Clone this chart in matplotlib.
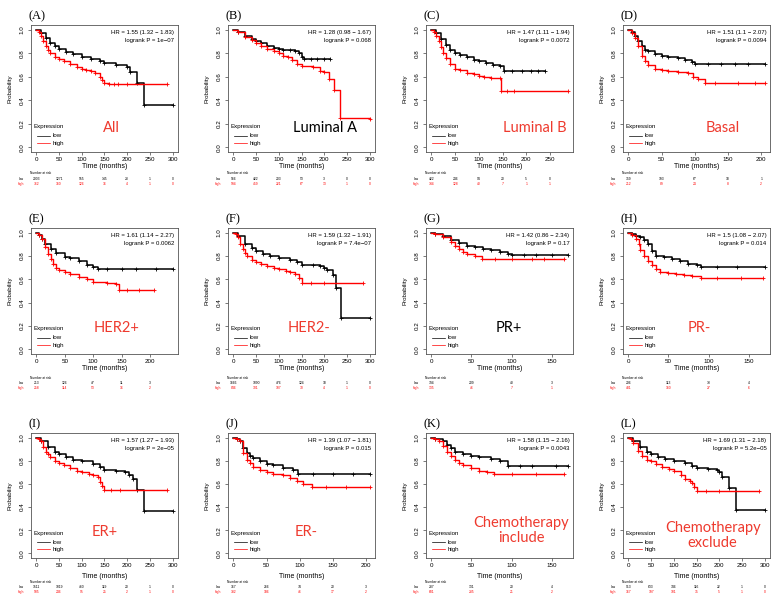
import numpy as np
import matplotlib.pyplot as plt
from matplotlib.transforms import blended_transform_factory

W, H = 778, 607
RED = "#FF0000"
TAGRED = "#EE3A2E"

# ---- Kurvendaten (Zeit in Monaten, Überlebenswahrscheinlichkeit) ----
# (A) All
a_low_t = [0, 10, 20, 30, 40, 50, 65, 80, 100, 120, 140, 150, 175, 200, 207, 222, 237, 300]
a_low_s = [1.0, 0.97, 0.93, 0.89, 0.86, 0.835, 0.81, 0.79, 0.77, 0.755, 0.735, 0.715, 0.70, 0.685, 0.64, 0.545, 0.36, 0.36]
a_high_t = [0, 5, 10, 15, 20, 25, 30, 40, 50, 60, 75, 90, 100, 110, 120, 130, 140, 145, 150, 160, 170, 180, 200, 287]
a_high_s = [1.0, 0.98, 0.95, 0.9, 0.86, 0.83, 0.8, 0.77, 0.75, 0.73, 0.71, 0.685, 0.665, 0.655, 0.645, 0.63, 0.6, 0.575, 0.545, 0.54, 0.54, 0.54, 0.54, 0.54]
a_risk_low = [2003, 1271, 555, 145, 23, 1, 0]
a_risk_high = [762, 360, 126, 36, 4, 1, 0]

# (B) Luminal A
b_low_t = [0, 10, 25, 40, 50, 60, 75, 90, 100, 110, 125, 135, 145, 150, 155, 170, 185, 200, 213]
b_low_s = [1.0, 0.98, 0.95, 0.92, 0.90, 0.885, 0.86, 0.845, 0.835, 0.83, 0.825, 0.815, 0.80, 0.77, 0.755, 0.755, 0.755, 0.755, 0.755]
b_high_t = [0, 10, 25, 40, 50, 60, 75, 90, 100, 110, 120, 130, 140, 150, 175, 190, 200, 210, 222, 235, 300]
b_high_s = [1.0, 0.98, 0.94, 0.91, 0.885, 0.86, 0.84, 0.82, 0.80, 0.78, 0.765, 0.745, 0.71, 0.69, 0.685, 0.65, 0.64, 0.585, 0.485, 0.245, 0.24]
b_risk_low = [566, 422, 203, 53, 3, 0, 0]
b_risk_high = [594, 459, 221, 67, 13, 1, 0]

# (C) Luminal B
c_low_t = [0, 10, 20, 30, 40, 50, 60, 75, 90, 100, 115, 130, 145, 152, 170, 190, 210, 225, 240]
c_low_s = [1.0, 0.97, 0.92, 0.87, 0.83, 0.80, 0.785, 0.765, 0.745, 0.735, 0.715, 0.70, 0.69, 0.65, 0.65, 0.65, 0.65, 0.65, 0.65]
c_high_t = [0, 5, 10, 15, 20, 25, 30, 40, 50, 60, 75, 90, 100, 110, 125, 145, 147, 160, 175, 287]
c_high_s = [1.0, 0.98, 0.95, 0.90, 0.85, 0.80, 0.76, 0.71, 0.67, 0.655, 0.635, 0.62, 0.605, 0.595, 0.59, 0.59, 0.475, 0.475, 0.475, 0.475]
c_risk_low = [422, 246, 94, 20, 5, 0]
c_risk_high = [334, 128, 40, 7, 1, 1]

# (D) Basal
d_low_t = [0, 5, 10, 15, 20, 25, 30, 40, 50, 60, 75, 85, 95, 100, 120, 140, 160, 180, 205]
d_low_s = [1.0, 0.98, 0.945, 0.90, 0.86, 0.83, 0.815, 0.795, 0.78, 0.77, 0.76, 0.745, 0.725, 0.71, 0.71, 0.71, 0.71, 0.71, 0.71]
d_high_t = [0, 5, 10, 15, 20, 25, 30, 40, 50, 60, 75, 90, 97, 105, 115, 130, 165, 190, 205]
d_high_s = [1.0, 0.97, 0.93, 0.86, 0.78, 0.73, 0.70, 0.67, 0.655, 0.645, 0.64, 0.63, 0.6, 0.585, 0.55, 0.55, 0.55, 0.55, 0.55]
d_risk_low = [359, 193, 67, 18, 1]
d_risk_high = [212, 89, 24, 8, 2]

# (E) HER2+
e_low_t = [0, 5, 10, 15, 25, 35, 50, 60, 75, 90, 100, 108, 125, 150, 175, 210, 240]
e_low_s = [1.0, 0.98, 0.95, 0.905, 0.86, 0.83, 0.795, 0.78, 0.76, 0.725, 0.705, 0.685, 0.685, 0.685, 0.685, 0.685, 0.685]
e_high_t = [0, 5, 10, 15, 20, 25, 30, 35, 40, 50, 60, 75, 90, 100, 125, 140, 145, 160, 180, 208]
e_high_s = [1.0, 0.98, 0.95, 0.875, 0.82, 0.775, 0.73, 0.695, 0.68, 0.665, 0.645, 0.62, 0.60, 0.58, 0.57, 0.56, 0.505, 0.505, 0.505, 0.505]
e_risk_low = [213, 126, 47, 11, 3]
e_risk_high = [258, 114, 53, 16, 2]

# (F) HER2-
f_low_t = [0, 10, 25, 40, 50, 65, 80, 100, 125, 140, 150, 175, 190, 200, 207, 220, 227, 237, 300]
f_low_s = [1.0, 0.97, 0.905, 0.865, 0.845, 0.82, 0.80, 0.785, 0.77, 0.75, 0.725, 0.72, 0.715, 0.695, 0.68, 0.64, 0.53, 0.265, 0.265]
f_high_t = [0, 5, 10, 15, 20, 25, 30, 40, 50, 60, 75, 90, 100, 115, 125, 135, 145, 152, 170, 200, 285]
f_high_s = [1.0, 0.985, 0.96, 0.905, 0.86, 0.83, 0.80, 0.765, 0.745, 0.73, 0.715, 0.70, 0.685, 0.67, 0.665, 0.645, 0.61, 0.57, 0.57, 0.57, 0.57]
f_risk_low = [1666, 1090, 476, 124, 18, 1, 0]
f_risk_high = [846, 301, 107, 30, 4, 1, 0]

# (G) PR+
g_low_t = [0, 5, 15, 25, 35, 45, 55, 65, 75, 85, 95, 100, 115, 130, 150, 170]
g_low_s = [1.0, 0.99, 0.97, 0.94, 0.91, 0.89, 0.875, 0.86, 0.85, 0.835, 0.82, 0.81, 0.81, 0.81, 0.81, 0.81]
g_high_t = [0, 5, 15, 25, 30, 35, 40, 45, 55, 63, 80, 100, 125, 140, 165]
g_high_s = [1.0, 0.99, 0.96, 0.92, 0.89, 0.86, 0.835, 0.82, 0.80, 0.775, 0.775, 0.775, 0.775, 0.775, 0.775]
g_risk_low = [394, 209, 40, 3]
g_risk_high = [135, 46, 7, 1]

# (H) PR-
h_low_t = [0, 5, 10, 15, 20, 25, 30, 35, 45, 55, 65, 75, 85, 90, 110, 135, 170]
h_low_s = [1.0, 0.99, 0.975, 0.96, 0.935, 0.90, 0.84, 0.80, 0.79, 0.775, 0.755, 0.735, 0.72, 0.705, 0.705, 0.705, 0.705]
h_high_t = [0, 5, 10, 13, 15, 20, 25, 30, 35, 40, 50, 60, 70, 80, 90, 110, 140, 168]
h_high_s = [1.0, 0.98, 0.95, 0.9, 0.85, 0.80, 0.76, 0.725, 0.69, 0.665, 0.655, 0.65, 0.635, 0.63, 0.615, 0.615, 0.615, 0.615]
h_risk_low = [206, 113, 33, 4]
h_risk_high = [431, 160, 27, 6]

# (I) ER+
i_low_t = [0, 10, 25, 40, 50, 65, 80, 100, 125, 140, 150, 175, 195, 205, 212, 222, 237, 300]
i_low_s = [1.0, 0.975, 0.92, 0.88, 0.86, 0.835, 0.81, 0.795, 0.775, 0.745, 0.72, 0.715, 0.70, 0.68, 0.645, 0.545, 0.365, 0.365]
i_high_t = [0, 5, 10, 15, 20, 25, 30, 40, 50, 60, 75, 90, 100, 115, 125, 135, 140, 145, 150, 165, 185, 287]
i_high_s = [1.0, 0.99, 0.97, 0.915, 0.88, 0.855, 0.83, 0.80, 0.78, 0.76, 0.735, 0.71, 0.70, 0.69, 0.68, 0.66, 0.62, 0.585, 0.545, 0.545, 0.545, 0.545]
i_risk_low = [1511, 1019, 460, 119, 20, 1, 0]
i_risk_high = [505, 246, 95, 25, 2, 1, 0]

# (J) ER-
j_low_t = [0, 5, 10, 15, 20, 25, 30, 40, 50, 60, 75, 90, 97, 120, 150, 180, 205]
j_low_s = [1.0, 0.99, 0.97, 0.91, 0.87, 0.84, 0.82, 0.795, 0.775, 0.76, 0.735, 0.72, 0.69, 0.69, 0.69, 0.69, 0.69]
j_high_t = [0, 5, 10, 15, 20, 25, 30, 40, 50, 60, 75, 85, 95, 105, 118, 140, 170, 205]
j_high_s = [1.0, 0.99, 0.97, 0.87, 0.81, 0.78, 0.75, 0.72, 0.705, 0.69, 0.675, 0.65, 0.625, 0.60, 0.575, 0.575, 0.575, 0.575]
j_risk_low = [367, 266, 74, 20, 3]
j_risk_high = [382, 186, 46, 17, 2]

# (K) Chemotherapy include
k_low_t = [0, 5, 15, 20, 25, 30, 40, 50, 60, 75, 85, 95, 110, 125, 155, 170]
k_low_s = [1.0, 0.99, 0.97, 0.94, 0.91, 0.88, 0.855, 0.84, 0.83, 0.815, 0.80, 0.755, 0.755, 0.755, 0.755, 0.755]
k_high_t = [0, 5, 10, 15, 20, 25, 30, 35, 40, 50, 60, 70, 78, 100, 130, 165]
k_high_s = [1.0, 0.99, 0.97, 0.93, 0.88, 0.84, 0.805, 0.78, 0.76, 0.735, 0.71, 0.70, 0.685, 0.685, 0.685, 0.685]
k_risk_low = [287, 131, 20, 4]
k_risk_high = [681, 235, 21, 2]

# (L) Chemotherapy exclude
l_low_t = [0, 10, 25, 40, 50, 65, 80, 100, 125, 140, 150, 175, 195, 200, 207, 222, 237, 300]
l_low_s = [1.0, 0.97, 0.92, 0.88, 0.86, 0.835, 0.815, 0.80, 0.78, 0.755, 0.735, 0.73, 0.72, 0.70, 0.66, 0.565, 0.375, 0.375]
l_high_t = [0, 5, 10, 20, 30, 40, 50, 60, 75, 90, 100, 115, 125, 135, 140, 145, 150, 170, 200, 287]
l_high_s = [1.0, 0.985, 0.955, 0.885, 0.84, 0.81, 0.795, 0.775, 0.75, 0.725, 0.71, 0.68, 0.64, 0.625, 0.605, 0.57, 0.535, 0.535, 0.535, 0.535]
l_risk_low = [913, 633, 346, 116, 22, 1, 0]
l_risk_high = [367, 197, 101, 35, 5, 1, 0]

letters = ["(A)", "(B)", "(C)", "(D)", "(E)", "(F)", "(G)", "(H)", "(I)", "(J)", "(K)", "(L)"]
groups = ["All", "Luminal A", "Luminal B", "Basal", "HER2+", "HER2-", "PR+", "PR-",
          "ER+", "ER-", "Chemotherapy\ninclude", "Chemotherapy\nexclude"]
hr_text = ["HR = 1.55 (1.32 \u2212 1.83)", "HR = 1.28 (0.98 \u2212 1.67)", "HR = 1.47 (1.11 \u2212 1.94)",
           "HR = 1.51 (1.1 \u2212 2.07)", "HR = 1.61 (1.14 \u2212 2.27)", "HR = 1.59 (1.32 \u2212 1.91)",
           "HR = 1.42 (0.86 \u2212 2.34)", "HR = 1.5 (1.08 \u2212 2.07)", "HR = 1.57 (1.27 \u2212 1.93)",
           "HR = 1.39 (1.07 \u2212 1.81)", "HR = 1.58 (1.15 \u2212 2.16)", "HR = 1.69 (1.31 \u2212 2.18)"]
p_text = ["logrank P = 1e\u221207", "logrank P = 0.068", "logrank P = 0.0072", "logrank P = 0.0094",
          "logrank P = 0.0062", "logrank P = 7.4e\u221207", "logrank P = 0.17", "logrank P = 0.014",
          "logrank P = 2e\u221205", "logrank P = 0.015", "logrank P = 0.0043", "logrank P = 5.2e\u221205"]

curves = [
    (a_low_t, a_low_s, a_high_t, a_high_s, a_risk_low, a_risk_high),
    (b_low_t, b_low_s, b_high_t, b_high_s, b_risk_low, b_risk_high),
    (c_low_t, c_low_s, c_high_t, c_high_s, c_risk_low, c_risk_high),
    (d_low_t, d_low_s, d_high_t, d_high_s, d_risk_low, d_risk_high),
    (e_low_t, e_low_s, e_high_t, e_high_s, e_risk_low, e_risk_high),
    (f_low_t, f_low_s, f_high_t, f_high_s, f_risk_low, f_risk_high),
    (g_low_t, g_low_s, g_high_t, g_high_s, g_risk_low, g_risk_high),
    (h_low_t, h_low_s, h_high_t, h_high_s, h_risk_low, h_risk_high),
    (i_low_t, i_low_s, i_high_t, i_high_s, i_risk_low, i_risk_high),
    (j_low_t, j_low_s, j_high_t, j_high_s, j_risk_low, j_risk_high),
    (k_low_t, k_low_s, k_high_t, k_high_s, k_risk_low, k_risk_high),
    (l_low_t, l_low_s, l_high_t, l_high_s, l_risk_low, l_risk_high),
]

# Layout (Pixel)
col_left = [31, 228, 426, 623]
box_w = 147
row_top = [25, 228, 433]
row_bot = [152, 354, 558]
xlab_off = [15, 15, 18]
risk_off = [(21, 27, 32), (24, 29, 34), (24, 29, 34)]
tag_pos = [(0.55, 0.19), (0.66, 0.19), (0.74, 0.19), (0.68, 0.19),
           (0.58, 0.21), (0.55, 0.21), (0.56, 0.21), (0.52, 0.21),
           (0.50, 0.21), (0.53, 0.21), (0.65, 0.22), (0.61, 0.18)]
tag_color = [TAGRED, "black", TAGRED, TAGRED, TAGRED, TAGRED, "black", TAGRED,
             TAGRED, TAGRED, TAGRED, TAGRED]

SANS = ["Liberation Sans", "DejaVu Sans"]
plt.rcParams["font.family"] = SANS

fig = plt.figure(figsize=(W / 100, H / 100), dpi=100)


def fy(y):
    return 1 - y / H


for k, (lt, ls, ht, hs, rl, rh) in enumerate(curves):
    c, r = k % 4, k // 4
    L, T, B = col_left[c], row_top[r], row_bot[r]
    ax = fig.add_axes([L / W, fy(B), box_w / W, (B - T) / H])

    xmax = max(lt[-1], ht[-1])
    ax.set_xlim(-0.04 * xmax, 1.04 * xmax)
    ax.set_ylim(-0.04, 1.04)
    xt = np.arange(0, 1.04 * xmax, 50)
    ax.set_xticks(xt)
    ax.set_xticklabels([f"{v:.0f}" for v in xt])
    yt = np.arange(0, 1.01, 0.2)
    ax.set_yticks(yt)
    ax.set_yticklabels([f"{v:.1f}" for v in yt], rotation=90, va="center")
    ax.tick_params(length=2.2, width=0.5, labelsize=4.5, color="#444444")
    ax.tick_params(axis="x", pad=1.2)
    ax.tick_params(axis="y", pad=2.5)
    for sp in ax.spines.values():
        sp.set_linewidth(0.6)
        sp.set_color("#555555")

    ax.step(lt, ls, where="post", color="black", lw=1.1)
    ax.plot(lt[1:], ls[1:], "+", color="black", ms=2.8, mew=0.6)
    ax.step(ht, hs, where="post", color=RED, lw=1.0)
    ax.plot(ht[1:], hs[1:], "+", color=RED, ms=2.8, mew=0.6)

    ax.text(0.975, 0.94, hr_text[k], transform=ax.transAxes, ha="right", va="center", fontsize=4.3)
    ax.text(0.975, 0.875, p_text[k], transform=ax.transAxes, ha="right", va="center", fontsize=4.3)

    # Legende
    ax.text(0.018, 0.20, "Expression", transform=ax.transAxes, ha="left", va="center", fontsize=4.4)
    ax.plot([0.04, 0.13], [0.127, 0.127], color="black", lw=0.5, transform=ax.transAxes)
    ax.plot([0.04, 0.13], [0.07, 0.07], color=RED, lw=0.5, transform=ax.transAxes)
    ax.text(0.15, 0.127, "low", transform=ax.transAxes, ha="left", va="center", fontsize=4.4)
    ax.text(0.15, 0.07, "high", transform=ax.transAxes, ha="left", va="center", fontsize=4.4)

    tx, ty = tag_pos[k]
    ax.text(tx, ty, groups[k], transform=ax.transAxes, ha="center", va="center",
            fontsize=10.5, family="Lato", color=tag_color[k], linespacing=1.1)

    fig.text(L / W - 0.003, fy(T - 3), letters[k], ha="left", va="bottom",
             fontsize=9, family="Liberation Serif")
    fig.text((L + box_w / 2) / W, fy(B + xlab_off[r]), "Time (months)", ha="center", va="center", fontsize=5)
    fig.text((L - 21) / W, fy((T + B) / 2), "Probability", ha="center", va="center", rotation=90, fontsize=4.4)

    # Number at risk
    tr = blended_transform_factory(ax.transData, fig.transFigure)
    o1, o2, o3 = risk_off[r]
    fig.text((L - 1) / W, fy(B + o1), "Number at risk", ha="left", va="center", fontsize=2.3)
    fig.text((L - 7) / W, fy(B + o2), "low", ha="right", va="center", fontsize=2.4)
    fig.text((L - 7) / W, fy(B + o3), "high", ha="right", va="center", fontsize=2.4, color=RED)
    for x, n1, n2 in zip(xt, rl, rh):
        ax.text(x, fy(B + o2), str(n1), transform=tr, ha="center", va="center", fontsize=2.4)
        ax.text(x, fy(B + o3), str(n2), transform=tr, ha="center", va="center", fontsize=2.4, color=RED)

fig.savefig("out.png", dpi=100)
